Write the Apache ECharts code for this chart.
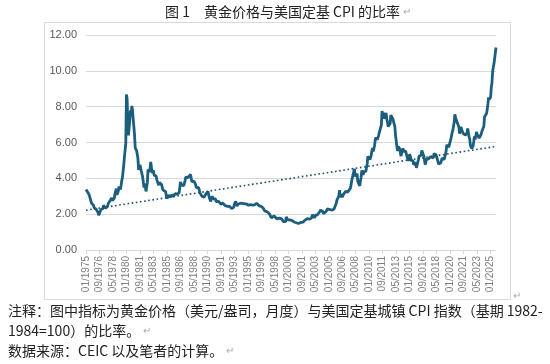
<!DOCTYPE html>
<html>
<head>
<meta charset="utf-8">
<script src="https://cdn.jsdelivr.net/npm/echarts@6/dist/echarts.min.js"></script>
<style>
html,body{margin:0;padding:0;background:#fff;}
#c{width:550px;height:364px;}
</style>
</head>
<body>
<div id="c"></div>
<script>
// Monthly ratio of gold price to US CPI, 01/1975 - 09/2025
const ratio = [
// 1975
3.38,3.43,3.37,3.20,3.13,3.05,3.04,2.99,2.63,2.60,2.57,2.50,
// 1976
2.37,2.37,2.36,2.28,2.24,2.23,2.08,1.93,1.99,2.04,2.26,2.31,
// 1977
2.26,2.30,2.49,2.49,2.44,2.33,2.37,2.38,2.45,2.59,2.63,2.59,
// 1978
2.77,2.85,2.91,2.75,2.76,2.83,2.90,3.15,3.22,3.43,3.08,3.08,
// 1979
3.31,3.54,3.46,3.38,3.59,3.87,4.03,4.09,4.75,5.19,5.14,5.94,
// 1980
8.68,8.43,6.93,6.40,6.30,7.28,7.80,7.54,8.04,7.81,7.30,6.89,
// 1981
6.40,5.70,5.63,5.55,5.34,5.10,4.47,4.44,4.76,4.69,4.41,4.36,
// 1982
4.07,3.96,3.49,3.71,3.52,3.27,3.51,3.76,4.50,4.35,4.25,4.55,
// 1983
4.92,5.02,4.30,4.38,4.44,4.18,4.27,4.19,4.13,3.93,3.81,3.87,
// 1984
3.62,3.77,3.84,3.70,3.66,3.66,3.36,3.35,3.27,3.26,3.26,3.05,
// 1985
2.87,2.83,2.86,3.05,2.96,2.96,2.95,3.07,3.00,3.02,3.00,2.94,
// 1986
3.15,3.10,3.17,3.12,3.13,3.13,3.18,3.43,3.80,3.85,3.62,3.54,
// 1987
3.67,3.59,3.65,3.89,4.07,3.97,3.97,4.04,4.01,4.05,4.06,4.22,
// 1988
4.12,3.81,3.81,3.87,3.85,3.84,3.70,3.65,3.47,3.41,3.52,3.49,
// 1989
3.34,3.19,3.20,3.13,3.00,2.96,3.02,2.94,2.91,2.93,3.14,3.25,
// 1990
3.22,3.26,3.06,2.90,2.86,2.71,2.77,3.00,2.93,2.85,2.86,2.83,
// 1991
2.85,2.70,2.69,2.65,2.64,2.71,2.71,2.61,2.55,2.62,2.62,2.62,
// 1992
2.56,2.56,2.49,2.43,2.42,2.44,2.52,2.45,2.45,2.43,2.37,2.36,
// 1993
2.31,2.30,2.31,2.38,2.55,2.58,2.72,2.62,2.45,2.50,2.57,2.63,
// 1994
2.65,2.61,2.62,2.58,2.60,2.62,2.61,2.57,2.63,2.61,2.57,2.54,
// 1995
2.52,2.50,2.53,2.58,2.53,2.54,2.53,2.51,2.50,2.50,2.52,2.52,
// 1996
2.59,2.61,2.55,2.52,2.51,2.46,2.44,2.47,2.43,2.41,2.38,2.33,
// 1997
2.23,2.18,2.21,2.16,2.16,2.13,2.02,2.02,2.01,2.02,1.90,1.79,
// 1998
1.79,1.84,1.83,1.90,1.84,1.80,1.80,1.74,1.77,1.81,1.80,1.78,
// 1999
1.75,1.75,1.74,1.70,1.67,1.58,1.54,1.54,1.58,1.85,1.74,1.68,
// 2000
1.68,1.77,1.68,1.64,1.61,1.66,1.63,1.58,1.57,1.55,1.53,1.56,
// 2001
1.52,1.49,1.49,1.48,1.54,1.52,1.51,1.54,1.59,1.60,1.56,1.56,
// 2002
1.59,1.67,1.65,1.69,1.75,1.79,1.75,1.72,1.77,1.76,1.77,1.84,
// 2003
1.96,1.96,1.85,1.79,1.94,1.94,1.91,1.95,2.05,2.05,2.11,2.21,
// 2004
2.23,2.18,2.17,2.15,2.03,2.07,2.11,2.12,2.14,2.20,2.29,2.32,
// 2005
2.22,2.21,2.26,2.22,2.18,2.22,2.18,2.24,2.30,2.36,2.41,2.59,
// 2006
2.77,2.79,2.79,3.03,3.34,2.94,3.11,3.10,2.95,2.91,3.12,3.12,
// 2007
3.12,3.27,3.20,3.30,3.23,3.17,3.22,3.22,3.44,3.62,3.85,3.83,
// 2008
4.21,4.36,4.53,4.23,4.10,4.06,4.27,3.83,3.79,3.72,3.58,3.88,
// 2009
4.06,4.45,4.36,4.19,4.36,4.40,4.35,4.40,4.61,4.83,5.22,5.26,
// 2010
5.16,5.05,5.13,5.29,5.55,5.68,5.50,5.59,5.85,6.16,6.28,6.35,
// 2011
6.16,6.21,6.40,6.58,6.70,6.78,6.97,7.76,7.81,7.34,7.67,7.32,
// 2012
7.30,7.65,7.30,7.17,6.89,6.95,6.95,7.05,7.53,7.54,7.46,7.33,
// 2013
7.26,7.03,6.87,6.42,6.10,5.78,5.53,5.78,5.79,5.66,5.48,5.24,
// 2014
5.32,5.54,5.67,5.50,5.44,5.39,5.52,5.46,5.22,5.16,4.98,5.12,
// 2015
5.35,5.23,5.00,5.06,5.05,4.97,4.76,4.70,4.74,4.88,4.58,4.52,
// 2016
4.63,5.06,5.24,5.20,5.25,5.29,5.55,5.56,5.48,5.23,5.12,4.77,
// 2017
4.91,5.06,5.04,5.17,5.09,5.14,5.04,5.21,5.32,5.18,5.19,5.13,
// 2018
5.37,5.35,5.31,5.33,5.19,5.10,4.93,4.79,4.78,4.83,4.86,4.98,
// 2019
5.13,5.23,5.14,5.05,5.03,5.32,5.52,5.86,5.90,5.83,5.74,5.76,
// 2020
6.05,6.17,6.17,6.56,6.69,6.72,7.13,7.57,7.38,7.30,7.17,7.13,
// 2021
7.14,6.87,6.49,6.59,6.87,6.75,6.62,6.52,6.47,6.42,6.55,6.42,
// 2022
6.46,6.54,6.78,6.70,6.33,6.20,5.85,5.96,5.66,5.59,5.80,6.06,
// 2023
6.34,6.17,6.34,6.59,6.55,6.37,6.38,6.25,6.22,6.23,6.46,6.62,
// 2024
6.60,6.52,6.91,7.44,7.49,7.40,7.62,7.85,8.15,8.52,8.40,8.39,
// 2025
8.53,9.07,9.33,9.95,10.20,10.39,10.34,10.41,11.30
];
// Linear trend line values at the first and last month
const trendEnds = [2.22, 5.78];
const yTicks = [0, 2, 4, 6, 8, 10, 12];
const startYear = 1975;

const months = [];
for (let i = 0; i < ratio.length; i++) {
  const y = startYear + Math.floor(i / 12);
  const m = (i % 12) + 1;
  months.push((m < 10 ? '0' + m : '' + m) + '/' + y);
}
const last = ratio.length - 1;

const chart = echarts.init(document.getElementById('c'), null, {renderer: 'canvas'});
const cjk = '"Noto Sans CJK SC", "Liberation Sans", sans-serif';
const lat = '"Liberation Sans", Arial, sans-serif';

function para(x, y, txt, size) {
  return {type: 'text', x: x, y: y, silent: true, style: {
    text: '{a|' + txt + '}{b|↵}',
    verticalAlign: 'middle',
    rich: {
      a: {fontFamily: cjk, fontSize: size, fill: '#222222', color: '#222222'},
      b: {fontFamily: lat, fontSize: 10, fill: '#aaaaaa', color: '#aaaaaa', padding: [0, 0, 0, 3]}
    }
  }};
}

chart.setOption({
  animation: false,
  backgroundColor: '#ffffff',
  grid: {left: 86, right: 54, top: 35, bottom: 114, containLabel: false},
  xAxis: {
    type: 'category',
    data: months,
    boundaryGap: false,
    axisLine: {show: true, lineStyle: {color: '#d9d9d9', width: 1}},
    axisTick: {show: true, interval: 19, length: 4, lineStyle: {color: '#d9d9d9'}},
    axisLabel: {interval: 19, rotate: 90, fontSize: 10, color: '#7f7f7f', fontFamily: lat, margin: 6},
    splitLine: {show: false}
  },
  yAxis: {
    type: 'value',
    min: yTicks[0],
    max: yTicks[yTicks.length - 1],
    interval: 2,
    axisLine: {show: false},
    axisTick: {show: false},
    axisLabel: {fontSize: 11, color: '#595959', fontFamily: lat, margin: 9,
      formatter: v => v.toFixed(2)},
    splitLine: {lineStyle: {color: '#d9d9d9', width: 1}}
  },
  series: [
    {
      name: '比率',
      type: 'line',
      data: ratio,
      showSymbol: false,
      symbol: 'none',
      lineStyle: {color: '#1b5e7e', width: 2.8},
      z: 3
    },
    {
      name: '线性趋势',
      type: 'line',
      data: [[0, trendEnds[0]], [last, trendEnds[1]]],
      showSymbol: false,
      symbol: 'none',
      lineStyle: {color: '#1f4e66', width: 1.6, type: [1.6, 2.6]},
      z: 4
    }
  ],
  graphic: [
    {type: 'rect', silent: true, shape: {x: 44.5, y: 22.5, width: 466, height: 277},
      style: {fill: 'none', stroke: '#d9d9d9', lineWidth: 1}},
    para(165, 12, '图 1　黄金价格与美国定基 CPI 的比率', 14),
    {type: 'text', x: 513, y: 296, silent: true, style: {text: '↵', font: '10px ' + lat, fill: '#aaaaaa', verticalAlign: 'middle'}},
    {type: 'text', x: 8, y: 311, silent: true, style: {text: '注释：图中指标为黄金价格（美元/盎司，月度）与美国定基城镇 CPI 指数（基期 1982-', font: '14px ' + cjk, fill: '#222222', verticalAlign: 'middle'}},
    para(8, 331, '1984=100）的比率。', 14),
    para(8, 351, '数据来源：CEIC 以及笔者的计算。', 14)
  ]
});
</script>
</body>
</html>
